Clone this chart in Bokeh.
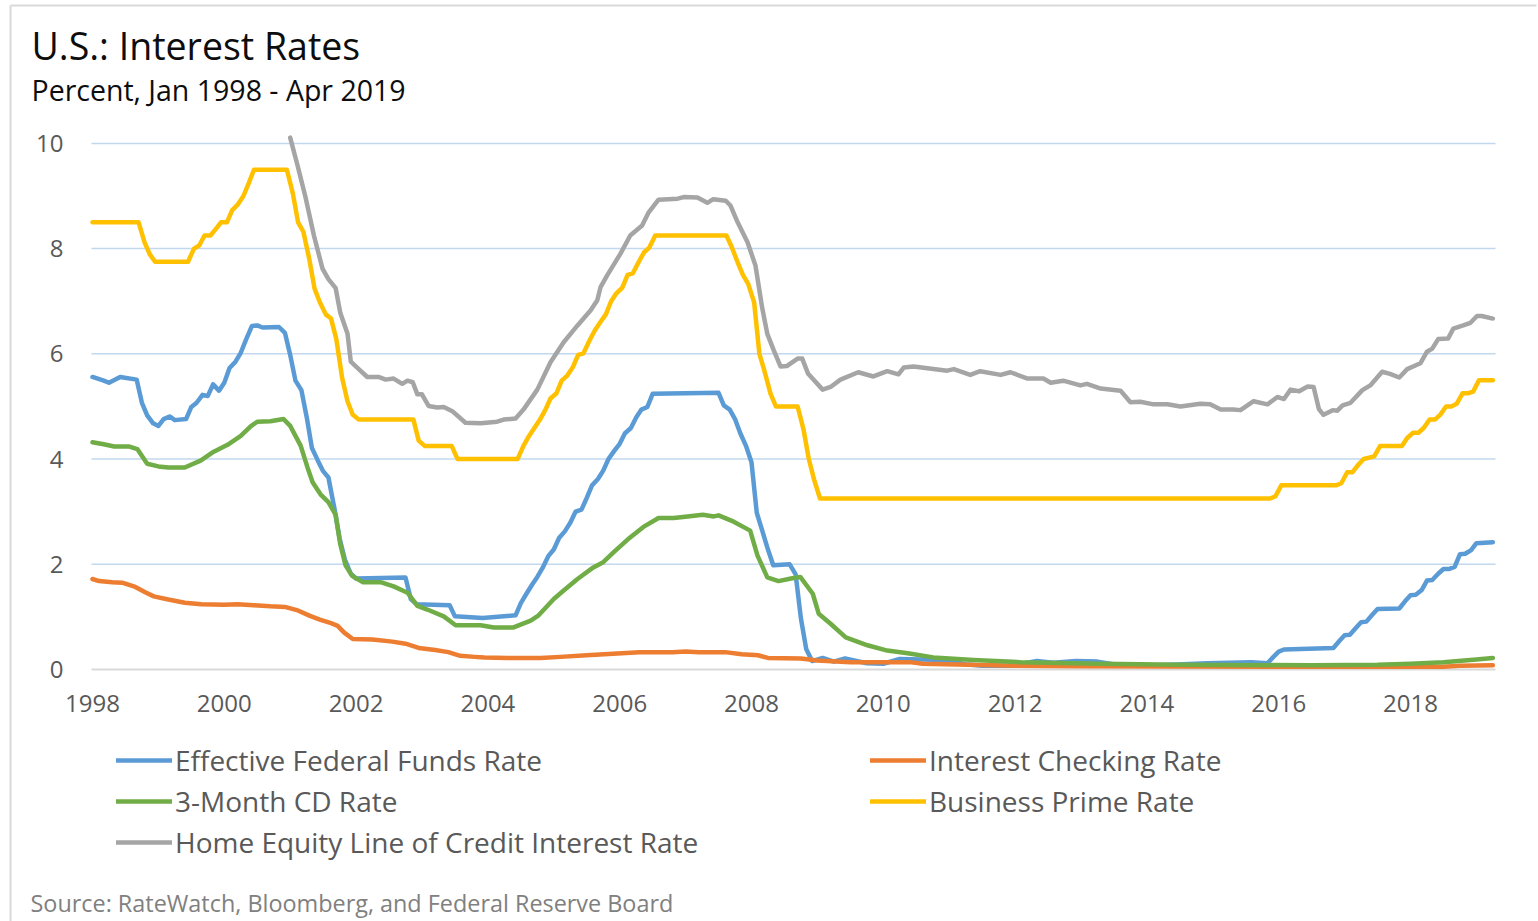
from bokeh.plotting import figure
from bokeh.models import Label, Legend, LegendItem, Range1d
from bokeh.core.properties import value
from bokeh.embed import file_html
from bokeh.resources import INLINE

# ---------------- data (decimal year, percent) ----------------
effr_t = [1998.00, 1998.17, 1998.25, 1998.42, 1998.67, 1998.75, 1998.83, 1998.92, 1999.00, 1999.08,
          1999.17, 1999.25, 1999.42, 1999.50, 1999.58, 1999.67, 1999.75, 1999.83, 1999.92, 2000.00,
          2000.08, 2000.17, 2000.25, 2000.33, 2000.42, 2000.50, 2000.58, 2000.83, 2000.92, 2001.00,
          2001.08, 2001.17, 2001.25, 2001.33, 2001.42, 2001.50, 2001.58, 2001.67, 2001.75, 2001.83,
          2001.92, 2002.00, 2002.75, 2002.83, 2002.92, 2003.42, 2003.50, 2003.92, 2004.42, 2004.50,
          2004.58, 2004.67, 2004.75, 2004.83, 2004.92, 2005.00, 2005.08, 2005.17, 2005.25, 2005.33,
          2005.42, 2005.50, 2005.58, 2005.67, 2005.75, 2005.83, 2005.92, 2006.00, 2006.08, 2006.17,
          2006.25, 2006.33, 2006.42, 2006.50, 2007.50, 2007.58, 2007.67, 2007.75, 2007.83, 2007.92,
          2008.00, 2008.08, 2008.17, 2008.25, 2008.33, 2008.58, 2008.67, 2008.75, 2008.83, 2008.92,
          2009.08, 2009.25, 2009.42, 2009.75, 2010.00, 2010.25, 2010.92, 2011.25, 2011.50, 2011.92,
          2012.33, 2012.58, 2012.92, 2013.25, 2013.58, 2014.00, 2014.92, 2015.58, 2015.83, 2015.92,
          2016.00, 2016.08, 2016.83, 2016.92, 2017.00, 2017.08, 2017.17, 2017.25, 2017.33, 2017.42,
          2017.50, 2017.83, 2017.92, 2018.00, 2018.08, 2018.17, 2018.25, 2018.33, 2018.42, 2018.50,
          2018.58, 2018.67, 2018.75, 2018.83, 2018.92, 2019.00, 2019.25]
effr_v = [5.56, 5.49, 5.45, 5.56, 5.51, 5.07, 4.83, 4.68, 4.63, 4.76,
          4.81, 4.74, 4.76, 4.99, 5.07, 5.22, 5.20, 5.42, 5.30, 5.45,
          5.73, 5.85, 6.02, 6.27, 6.53, 6.54, 6.50, 6.51, 6.40, 5.98,
          5.49, 5.31, 4.80, 4.21, 3.97, 3.77, 3.65, 3.07, 2.49, 2.09,
          1.82, 1.73, 1.75, 1.34, 1.24, 1.22, 1.01, 0.98, 1.03, 1.26,
          1.43, 1.61, 1.76, 1.93, 2.16, 2.28, 2.50, 2.63, 2.79, 3.00,
          3.04, 3.26, 3.50, 3.62, 3.78, 4.00, 4.16, 4.29, 4.49, 4.59,
          4.79, 4.94, 4.99, 5.24, 5.26, 5.02, 4.94, 4.76, 4.49, 4.24,
          3.94, 2.98, 2.61, 2.28, 1.98, 2.00, 1.81, 0.97, 0.39, 0.16,
          0.22, 0.15, 0.21, 0.12, 0.11, 0.20, 0.18, 0.10, 0.07, 0.07,
          0.16, 0.13, 0.16, 0.15, 0.08, 0.07, 0.12, 0.14, 0.12, 0.24,
          0.34, 0.38, 0.41, 0.54, 0.65, 0.66, 0.79, 0.90, 0.91, 1.04,
          1.15, 1.16, 1.30, 1.41, 1.42, 1.51, 1.69, 1.70, 1.82, 1.91,
          1.91, 1.95, 2.19, 2.20, 2.27, 2.40, 2.42]

checking_t = [1998.00, 1998.10, 1998.30, 1998.45, 1998.65, 1998.80, 1998.93, 1999.15, 1999.40, 1999.65,
              2000.00, 2000.20, 2000.45, 2000.70, 2000.92, 2001.10, 2001.30, 2001.45, 2001.62, 2001.72,
              2001.82, 2001.95, 2002.25, 2002.55, 2002.75, 2002.95, 2003.20, 2003.40, 2003.58, 2003.80,
              2003.95, 2004.30, 2004.80, 2005.10, 2005.50, 2005.90, 2006.30, 2006.80, 2007.00, 2007.20,
              2007.60, 2007.85, 2008.10, 2008.25, 2008.75, 2009.00, 2009.50, 2010.40, 2010.60, 2011.30,
              2012.00, 2013.00, 2016.00, 2018.50, 2018.75, 2019.25]
checking_v = [1.72, 1.68, 1.66, 1.65, 1.57, 1.47, 1.39, 1.33, 1.27, 1.24,
              1.23, 1.24, 1.22, 1.20, 1.19, 1.13, 1.02, 0.95, 0.88, 0.83,
              0.70, 0.58, 0.57, 0.53, 0.49, 0.41, 0.37, 0.33, 0.26, 0.24,
              0.23, 0.22, 0.22, 0.24, 0.27, 0.30, 0.33, 0.33, 0.34, 0.33,
              0.33, 0.29, 0.27, 0.22, 0.21, 0.17, 0.14, 0.14, 0.11, 0.09,
              0.07, 0.06, 0.05, 0.05, 0.07, 0.08]

cd_t = [1998.00, 1998.17, 1998.33, 1998.55, 1998.68, 1998.83, 1999.00, 1999.15, 1999.40, 1999.64,
        1999.84, 2000.05, 2000.25, 2000.40, 2000.50, 2000.70, 2000.90, 2001.00, 2001.16, 2001.26,
        2001.34, 2001.46, 2001.58, 2001.69, 2001.76, 2001.84, 2001.94, 2002.10, 2002.37, 2002.57,
        2002.78, 2002.93, 2003.08, 2003.33, 2003.51, 2003.89, 2004.09, 2004.39, 2004.65, 2004.77,
        2005.00, 2005.15, 2005.36, 2005.60, 2005.75, 2005.91, 2006.12, 2006.36, 2006.59, 2006.82,
        2007.03, 2007.26, 2007.43, 2007.50, 2007.73, 2007.98, 2008.09, 2008.24, 2008.41, 2008.60,
        2008.74, 2008.93, 2009.02, 2009.20, 2009.43, 2009.76, 2010.06, 2010.37, 2010.76, 2011.37,
        2012.08, 2013.30, 2014.50, 2016.50, 2017.50, 2018.00, 2018.50, 2019.00, 2019.25]
cd_v = [4.32, 4.28, 4.24, 4.24, 4.19, 3.91, 3.86, 3.84, 3.84, 3.97,
        4.14, 4.27, 4.44, 4.62, 4.71, 4.72, 4.76, 4.63, 4.25, 3.85,
        3.56, 3.33, 3.18, 2.94, 2.38, 1.98, 1.78, 1.66, 1.66, 1.58,
        1.46, 1.21, 1.14, 1.01, 0.84, 0.84, 0.80, 0.80, 0.93, 1.03,
        1.34, 1.50, 1.72, 1.94, 2.04, 2.23, 2.47, 2.71, 2.88, 2.88,
        2.91, 2.94, 2.91, 2.93, 2.81, 2.64, 2.17, 1.75, 1.68, 1.73,
        1.76, 1.44, 1.06, 0.87, 0.61, 0.46, 0.36, 0.31, 0.23, 0.18,
        0.14, 0.11, 0.09, 0.08, 0.09, 0.11, 0.14, 0.19, 0.22]

prime_t = [1998.00, 1998.70, 1998.79, 1998.87, 1998.95, 1999.45, 1999.54, 1999.62, 1999.70, 1999.79,
           1999.87, 1999.95, 2000.04, 2000.12, 2000.20, 2000.29, 2000.37, 2000.45, 2000.95, 2001.04,
           2001.12, 2001.20, 2001.29, 2001.37, 2001.45, 2001.54, 2001.62, 2001.70, 2001.79, 2001.87,
           2001.95, 2002.04, 2002.87, 2002.95, 2003.04, 2003.45, 2003.54, 2004.45, 2004.54, 2004.62,
           2004.70, 2004.79, 2004.87, 2004.95, 2005.04, 2005.12, 2005.20, 2005.29, 2005.37, 2005.45,
           2005.54, 2005.62, 2005.70, 2005.79, 2005.87, 2005.95, 2006.04, 2006.12, 2006.20, 2006.29,
           2006.37, 2006.45, 2006.54, 2007.62, 2007.70, 2007.79, 2007.87, 2007.95, 2008.04, 2008.12,
           2008.20, 2008.29, 2008.37, 2008.70, 2008.79, 2008.87, 2008.95, 2009.04, 2015.87, 2015.95,
           2016.04, 2016.87, 2016.95, 2017.04, 2017.12, 2017.20, 2017.29, 2017.45, 2017.54, 2017.87,
           2017.95, 2018.04, 2018.12, 2018.20, 2018.29, 2018.37, 2018.45, 2018.54, 2018.62, 2018.70,
           2018.79, 2018.87, 2018.95, 2019.04, 2019.25]
prime_v = [8.50, 8.50, 8.12, 7.89, 7.75, 7.75, 8.00, 8.06, 8.25, 8.25,
           8.37, 8.50, 8.50, 8.73, 8.83, 9.00, 9.24, 9.50, 9.50, 9.05,
           8.50, 8.32, 7.80, 7.24, 6.98, 6.75, 6.67, 6.28, 5.53, 5.10,
           4.84, 4.75, 4.75, 4.35, 4.25, 4.25, 4.00, 4.00, 4.25, 4.43,
           4.58, 4.75, 4.93, 5.15, 5.25, 5.49, 5.58, 5.75, 5.98, 6.01,
           6.25, 6.44, 6.59, 6.75, 7.00, 7.15, 7.26, 7.50, 7.53, 7.75,
           7.93, 8.02, 8.25, 8.25, 8.03, 7.74, 7.50, 7.33, 6.98, 6.00,
           5.66, 5.24, 5.00, 5.00, 4.56, 4.00, 3.61, 3.25, 3.25, 3.29,
           3.50, 3.50, 3.54, 3.75, 3.75, 3.88, 4.00, 4.05, 4.25, 4.25,
           4.40, 4.50, 4.50, 4.59, 4.75, 4.75, 4.84, 5.00, 5.00, 5.05,
           5.25, 5.25, 5.28, 5.50, 5.50]

heloc_t = [2001.00, 2001.11, 2001.23, 2001.36, 2001.49, 2001.58, 2001.69, 2001.76, 2001.87, 2001.92,
           2002.04, 2002.17, 2002.34, 2002.45, 2002.57, 2002.70, 2002.78, 2002.86, 2002.93, 2003.00,
           2003.10, 2003.23, 2003.33, 2003.46, 2003.66, 2003.89, 2004.14, 2004.24, 2004.42, 2004.54,
           2004.75, 2004.95, 2005.15, 2005.36, 2005.56, 2005.66, 2005.71, 2005.81, 2006.01, 2006.16,
           2006.34, 2006.44, 2006.59, 2006.88, 2006.97, 2007.18, 2007.33, 2007.42, 2007.61, 2007.68,
           2007.79, 2007.94, 2008.06, 2008.16, 2008.24, 2008.34, 2008.44, 2008.54, 2008.70, 2008.77,
           2008.86, 2009.08, 2009.20, 2009.35, 2009.62, 2009.85, 2010.06, 2010.23, 2010.31, 2010.46,
           2010.76, 2010.97, 2011.07, 2011.32, 2011.47, 2011.78, 2011.93, 2012.19, 2012.43, 2012.54,
           2012.73, 2012.99, 2013.09, 2013.30, 2013.60, 2013.75, 2013.90, 2014.10, 2014.31, 2014.51,
           2014.81, 2014.96, 2015.12, 2015.31, 2015.42, 2015.62, 2015.83, 2015.98, 2016.08, 2016.18,
           2016.31, 2016.44, 2016.53, 2016.61, 2016.68, 2016.82, 2016.89, 2016.97, 2017.09, 2017.27,
           2017.39, 2017.57, 2017.69, 2017.83, 2017.95, 2018.15, 2018.25, 2018.33, 2018.42, 2018.57,
           2018.65, 2018.80, 2018.91, 2019.01, 2019.08, 2019.25]
heloc_v = [10.11, 9.59, 8.99, 8.25, 7.62, 7.42, 7.25, 6.78, 6.38, 5.85,
           5.71, 5.56, 5.56, 5.51, 5.53, 5.43, 5.49, 5.46, 5.23, 5.23,
           5.01, 4.98, 4.99, 4.91, 4.69, 4.68, 4.71, 4.75, 4.77, 4.94,
           5.32, 5.84, 6.22, 6.54, 6.83, 7.02, 7.27, 7.49, 7.90, 8.25,
           8.44, 8.69, 8.93, 8.95, 8.98, 8.97, 8.87, 8.94, 8.91, 8.82,
           8.50, 8.12, 7.68, 6.89, 6.38, 6.06, 5.76, 5.77, 5.91, 5.91,
           5.62, 5.32, 5.37, 5.51, 5.65, 5.57, 5.67, 5.61, 5.74, 5.76,
           5.71, 5.68, 5.71, 5.60, 5.67, 5.60, 5.65, 5.53, 5.53, 5.45,
           5.49, 5.40, 5.43, 5.34, 5.30, 5.08, 5.09, 5.04, 5.04, 5.00,
           5.05, 5.04, 4.94, 4.94, 4.93, 5.10, 5.04, 5.18, 5.14, 5.32,
           5.29, 5.38, 5.37, 4.95, 4.84, 4.93, 4.92, 5.02, 5.07, 5.31,
           5.40, 5.66, 5.62, 5.55, 5.71, 5.82, 6.04, 6.10, 6.28, 6.29,
           6.48, 6.54, 6.59, 6.72, 6.72, 6.67]

series_names = ["Effective Federal Funds Rate", "Interest Checking Rate", "3-Month CD Rate",
                "Business Prime Rate", "Home Equity Line of Credit Interest Rate"]
series_colors = ["#5B9BD5", "#ED7D31", "#70AD47", "#FFC000", "#A5A5A5"]
x_ticks = [1998, 2000, 2002, 2004, 2006, 2008, 2010, 2012, 2014, 2016, 2018]
y_ticks = [0, 2, 4, 6, 8, 10]

title_text = "U.S.: Interest Rates"
subtitle_text = "Percent, Jan 1998 - Apr 2019"
source_text = "Source: RateWatch, Bloomberg, and Federal Reserve Board"

# ---------------- layout (page pixels) ----------------
W, H = 1538, 921
PL, PR, PT, PB = 91, 1495, 135, 669      # plot area in page pixels
X0, X1 = 1997.985, 2019.29               # x values at plot-area left/right
Y0, Y1 = 0.0, 10.15                      # y values at plot-area bottom/top
SX = (PR - PL) / (X1 - X0)
SY = (PB - PT) / (Y1 - Y0)
FONT = "Open Sans"
LW = 4.5


def dx(px):
    return X0 + (px - PL) / SX


def dy(py):
    return Y0 + (PB - py) / SY


p = figure(width=W, height=H, output_backend="svg", toolbar_location=None, title=None,
           x_range=Range1d(dx(0), dx(W)), y_range=Range1d(dy(H), dy(0)),
           min_border=0, x_axis_location=None, y_axis_location=None,
           background_fill_color="white", border_fill_color="white")
p.outline_line_color = None
p.grid.visible = False

# chart-area border
p.segment(x0=[dx(10)], y0=[dy(5)], x1=[dx(1536)], y1=[dy(5)], line_color="#D9D9D9", line_width=2)
p.segment(x0=[dx(10)], y0=[dy(5)], x1=[dx(10)], y1=[dy(H)], line_color="#D9D9D9", line_width=2)

# horizontal gridlines and x-axis line
grid_y = y_ticks[1:]
p.segment(x0=[X0] * len(grid_y), y0=grid_y, x1=[X1] * len(grid_y), y1=grid_y,
          line_color="#C2D8EE", line_width=1.5)
p.segment(x0=[X0], y0=[Y0], x1=[X1], y1=[Y0], line_color="#D9D9D9", line_width=2)

# tick labels
p.text(x=x_ticks, y=[dy(703)] * len(x_ticks), text=[str(t) for t in x_ticks],
       text_font=value(FONT), text_font_size="24px", text_color="#595959",
       text_align="center", text_baseline="middle")
p.text(x=[dx(63)] * len(y_ticks), y=y_ticks, text=[str(t) for t in y_ticks],
       text_font=value(FONT), text_font_size="24px", text_color="#595959",
       text_align="right", text_baseline="middle")

# series
data = [(effr_t, effr_v), (checking_t, checking_v), (cd_t, cd_v), (prime_t, prime_v), (heloc_t, heloc_v)]
renderers = [p.line(t, v, line_color=c, line_width=LW, line_join="round", line_cap="round")
             for (t, v), c in zip(data, series_colors)]

# legends (two columns)
common = dict(label_text_font=FONT, label_text_font_size="28px", label_text_color="#595959",
              glyph_width=56, glyph_height=36, label_height=36, label_standoff=3, spacing=3,
              padding=0, margin=0, border_line_color=None, background_fill_alpha=0,
              orientation="vertical")
leg1 = Legend(items=[LegendItem(label=series_names[i], renderers=[renderers[i]]) for i in (0, 2, 4)],
              location=(116, H - 861), **common)
leg2 = Legend(items=[LegendItem(label=series_names[i], renderers=[renderers[i]]) for i in (1, 3)],
              location=(870, H - 820), **common)
p.add_layout(leg1)
p.add_layout(leg2)

# titles and source
p.add_layout(Label(x=dx(31), y=dy(45), text=title_text, text_font=FONT, text_font_size="37.5px",
                   text_color="#0D0D0D", text_baseline="alphabetic", text_align="left"))
p.add_layout(Label(x=dx(31), y=dy(89), text=subtitle_text, text_font=FONT, text_font_size="28.5px",
                   text_color="#0D0D0D", text_baseline="alphabetic", text_align="left"))
p.add_layout(Label(x=dx(30), y=dy(902), text=source_text, text_font=FONT, text_font_size="23.4px",
                   text_color="#808080", text_baseline="alphabetic", text_align="left"))

open("out.html", "w").write(file_html(p, INLINE))
